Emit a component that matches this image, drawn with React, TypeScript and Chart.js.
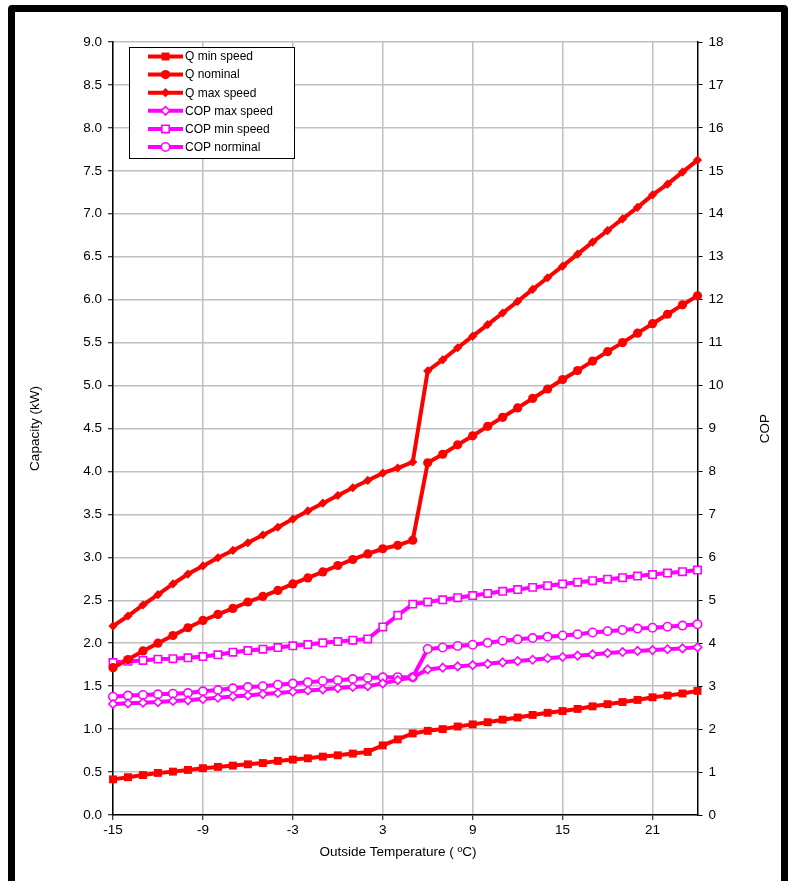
import React, { useEffect, useRef } from 'react';
import { Chart, registerables } from 'chart.js';

Chart.register(...registerables);

// ---------- data ----------
const temps = [-15, -14, -13, -12, -11, -10, -9, -8, -7, -6, -5, -4, -3, -2, -1, 0, 1, 2, 3, 4, 5, 6, 7, 8, 9, 10, 11, 12, 13, 14, 15, 16, 17, 18, 19, 20, 21, 22, 23, 24];

const xTickValues = [-15, -9, -3, 3, 9, 15, 21];

const qMinSpeed = [0.415, 0.44, 0.465, 0.49, 0.505, 0.525, 0.545, 0.56, 0.575, 0.59, 0.605, 0.63, 0.645, 0.66, 0.68, 0.695, 0.715, 0.735, 0.81, 0.88, 0.95, 0.98, 1.0, 1.03, 1.055, 1.08, 1.11, 1.135, 1.165, 1.19, 1.21, 1.235, 1.265, 1.29, 1.315, 1.34, 1.37, 1.39, 1.415, 1.445];

const qNominal = [1.715, 1.81, 1.91, 2.0, 2.09, 2.18, 2.265, 2.335, 2.405, 2.48, 2.545, 2.615, 2.69, 2.76, 2.83, 2.905, 2.975, 3.04, 3.1, 3.14, 3.2, 4.1, 4.2, 4.31, 4.415, 4.525, 4.63, 4.74, 4.85, 4.96, 5.07, 5.175, 5.285, 5.395, 5.5, 5.61, 5.72, 5.83, 5.94, 6.045];

const qMaxSpeed = [2.2, 2.317, 2.445, 2.565, 2.69, 2.805, 2.9, 2.995, 3.08, 3.17, 3.26, 3.35, 3.445, 3.54, 3.63, 3.72, 3.81, 3.895, 3.98, 4.04, 4.11, 5.17, 5.3, 5.44, 5.575, 5.71, 5.845, 5.98, 6.12, 6.255, 6.39, 6.53, 6.67, 6.805, 6.94, 7.075, 7.22, 7.345, 7.485, 7.625];

const copMaxSpeed = [2.585, 2.6, 2.615, 2.63, 2.655, 2.67, 2.7, 2.73, 2.76, 2.785, 2.815, 2.84, 2.87, 2.9, 2.925, 2.955, 2.98, 3.0, 3.065, 3.14, 3.205, 3.39, 3.43, 3.46, 3.49, 3.52, 3.555, 3.585, 3.615, 3.65, 3.68, 3.71, 3.74, 3.77, 3.795, 3.82, 3.84, 3.86, 3.88, 3.905];

const copMinSpeed = [3.55, 3.58, 3.6, 3.63, 3.64, 3.66, 3.69, 3.73, 3.79, 3.83, 3.86, 3.9, 3.94, 3.97, 4.01, 4.04, 4.07, 4.1, 4.38, 4.65, 4.91, 4.96, 5.01, 5.06, 5.11, 5.16, 5.21, 5.25, 5.3, 5.34, 5.38, 5.42, 5.455, 5.49, 5.525, 5.565, 5.6, 5.635, 5.665, 5.705];

const copNominal = [2.755, 2.78, 2.795, 2.81, 2.825, 2.84, 2.88, 2.91, 2.95, 2.98, 3.0, 3.035, 3.06, 3.09, 3.12, 3.14, 3.165, 3.19, 3.205, 3.21, 3.21, 3.865, 3.9, 3.935, 3.965, 4.01, 4.06, 4.09, 4.12, 4.15, 4.18, 4.21, 4.25, 4.28, 4.31, 4.34, 4.36, 4.385, 4.41, 4.44];

const seriesLabels = ['Q min speed', 'Q nominal', 'Q max speed', 'COP max speed', 'COP min speed', 'COP norminal'];

const xTitle = 'Outside Temperature ( ºC)';
const yTitle = 'Capacity (kW)';
const y1Title = 'COP';

// ---------- styles ----------
const RED = '#ff0000';
const MAGENTA = '#ff00ff';
const FONT = "'Liberation Sans', Arial, Helvetica, sans-serif";
const GRID = '#c0c0c0';

type SeriesStyle = {
  color: string;
  pointStyle: 'rect' | 'circle' | 'rectRot';
  radius: number;
  fill: string;
  borderW: number;
  axis: 'y' | 'y1';
};

const styles: SeriesStyle[] = [
  { color: RED, pointStyle: 'rect', radius: 5.6, fill: RED, borderW: 0, axis: 'y' },
  { color: RED, pointStyle: 'circle', radius: 4.6, fill: RED, borderW: 0, axis: 'y' },
  { color: RED, pointStyle: 'rectRot', radius: 4.6, fill: RED, borderW: 0, axis: 'y' },
  { color: MAGENTA, pointStyle: 'rectRot', radius: 4.2, fill: '#ffffff', borderW: 1.6, axis: 'y1' },
  { color: MAGENTA, pointStyle: 'rect', radius: 5.2, fill: '#ffffff', borderW: 1.6, axis: 'y1' },
  { color: MAGENTA, pointStyle: 'circle', radius: 4.2, fill: '#ffffff', borderW: 1.6, axis: 'y1' },
];

const seriesValues = [qMinSpeed, qNominal, qMaxSpeed, copMaxSpeed, copMinSpeed, copNominal];

function drawMarker(ctx: CanvasRenderingContext2D, st: SeriesStyle, x: number, y: number) {
  const r = st.radius;
  ctx.beginPath();
  if (st.pointStyle === 'circle') {
    ctx.arc(x, y, r, 0, Math.PI * 2);
  } else if (st.pointStyle === 'rect') {
    const s = r * Math.SQRT1_2;
    ctx.rect(x - s, y - s, 2 * s, 2 * s);
  } else {
    ctx.moveTo(x - r, y);
    ctx.lineTo(x, y - r);
    ctx.lineTo(x + r, y);
    ctx.lineTo(x, y + r);
    ctx.closePath();
  }
  ctx.fillStyle = st.fill;
  ctx.fill();
  if (st.borderW > 0) {
    ctx.lineWidth = st.borderW;
    ctx.strokeStyle = st.color;
    ctx.stroke();
  }
}

const legendPlugin = {
  id: 'insideLegend',
  afterDatasetsDraw(chart: any) {
    const ctx: CanvasRenderingContext2D = chart.ctx;
    const area = chart.chartArea;
    const bx = area.left + 16;
    const by = area.top + 5;
    const bw = 165;
    const bh = 111;
    ctx.save();
    ctx.fillStyle = '#ffffff';
    ctx.fillRect(bx, by, bw, bh);
    ctx.strokeStyle = '#000000';
    ctx.lineWidth = 1;
    ctx.strokeRect(bx + 0.5, by + 0.5, bw, bh);
    ctx.font = `12px ${FONT}`;
    ctx.textBaseline = 'middle';
    ctx.textAlign = 'left';
    seriesLabels.forEach((label, i) => {
      const st = styles[i];
      const cy = by + 9.5 + i * 18.1;
      ctx.beginPath();
      ctx.moveTo(bx + 19, cy);
      ctx.lineTo(bx + 54, cy);
      ctx.lineWidth = 4;
      ctx.strokeStyle = st.color;
      ctx.stroke();
      drawMarker(ctx, st, bx + 36.5, cy);
      ctx.fillStyle = '#000000';
      ctx.fillText(label, bx + 56, cy + 0.5);
    });
    ctx.restore();
  },
};

const titlePlugin = {
  id: 'axisTitles',
  afterDraw(chart: any) {
    const ctx: CanvasRenderingContext2D = chart.ctx;
    const area = chart.chartArea;
    const midY = (area.top + area.bottom) / 2;
    ctx.save();
    ctx.font = `13.5px ${FONT}`;
    ctx.fillStyle = '#000000';
    ctx.textAlign = 'center';
    ctx.textBaseline = 'middle';
    ctx.save();
    ctx.translate(35, midY);
    ctx.rotate(-Math.PI / 2);
    ctx.fillText(yTitle, 0, 0);
    ctx.restore();
    ctx.save();
    ctx.translate(765, midY);
    ctx.rotate(-Math.PI / 2);
    ctx.fillText(y1Title, 0, 0);
    ctx.restore();
    ctx.fillText(xTitle, 398, 852);
    ctx.restore();
  },
};

export default function App() {
  const canvasRef = useRef<HTMLCanvasElement | null>(null);

  useEffect(() => {
    const canvas = canvasRef.current;
    if (!canvas) return;

    const datasets = seriesLabels.map((label, i) => {
      const st = styles[i];
      return {
        label,
        data: temps.map((t, k) => ({ x: t, y: seriesValues[i][k] })),
        yAxisID: st.axis,
        borderColor: st.color,
        backgroundColor: st.color,
        borderWidth: 4,
        tension: 0,
        pointStyle: st.pointStyle,
        pointRadius: st.radius,
        pointBackgroundColor: st.fill,
        pointBorderColor: st.color,
        pointBorderWidth: st.borderW,
        pointHoverRadius: st.radius,
        clip: false as any,
      };
    });

    const tickFont = { family: FONT, size: 13.5 };

    const chart = new Chart(canvas, {
      type: 'line',
      data: { datasets },
      plugins: [legendPlugin, titlePlugin],
      options: {
        animation: false,
        responsive: false,
        maintainAspectRatio: false,
        events: [],
        layout: { padding: { top: 42, left: 0, right: 0, bottom: 0 } },
        plugins: {
          legend: { display: false },
          tooltip: { enabled: false },
        },
        scales: {
          x: {
            type: 'linear',
            min: -15,
            max: 24,
            afterBuildTicks: (axis: any) => {
              axis.ticks = xTickValues.map((v) => ({ value: v }));
            },
            afterFit: (scale: any) => {
              scale.height = 66;
            },
            ticks: {
              color: '#000000',
              font: tickFont,
              padding: 2,
              maxRotation: 0,
              autoSkip: false,
            },
            grid: {
              color: GRID,
              lineWidth: 1.5,
              tickColor: '#000000',
              tickLength: 5,
              tickWidth: 1,
            },
            border: { color: '#000000', width: 1.5 },
          },
          y: {
            type: 'linear',
            position: 'left',
            min: 0,
            max: 9,
            afterFit: (scale: any) => {
              scale.width = 113;
            },
            ticks: {
              stepSize: 0.5,
              color: '#000000',
              font: tickFont,
              padding: 6,
              callback: (v: any) => Number(v).toFixed(1),
            },
            grid: {
              color: GRID,
              lineWidth: 1.5,
              tickColor: '#000000',
              tickLength: 5,
              tickWidth: 1,
            },
            border: { color: '#000000', width: 1.5 },
          },
          y1: {
            type: 'linear',
            position: 'right',
            min: 0,
            max: 18,
            afterFit: (scale: any) => {
              scale.width = 97.5;
            },
            ticks: {
              stepSize: 1,
              color: '#000000',
              font: tickFont,
              padding: 6,
            },
            grid: {
              drawOnChartArea: false,
              tickColor: '#000000',
              tickLength: 5,
              tickWidth: 1,
            },
            border: { color: '#000000', width: 1.5 },
          },
        },
      } as any,
    });

    return () => {
      chart.destroy();
    };
  }, []);

  return (
    <>
      <canvas
        ref={canvasRef}
        width={795}
        height={881}
        style={{ position: 'fixed', left: 0, top: 0, width: 795, height: 881, display: 'block' }}
      />
      <div
        style={{
          position: 'fixed',
          left: 8,
          top: 5,
          width: 780,
          height: 920,
          border: '7px solid #000000',
          borderRadius: 4,
          boxSizing: 'border-box',
          pointerEvents: 'none',
        }}
      />
    </>
  );
}
